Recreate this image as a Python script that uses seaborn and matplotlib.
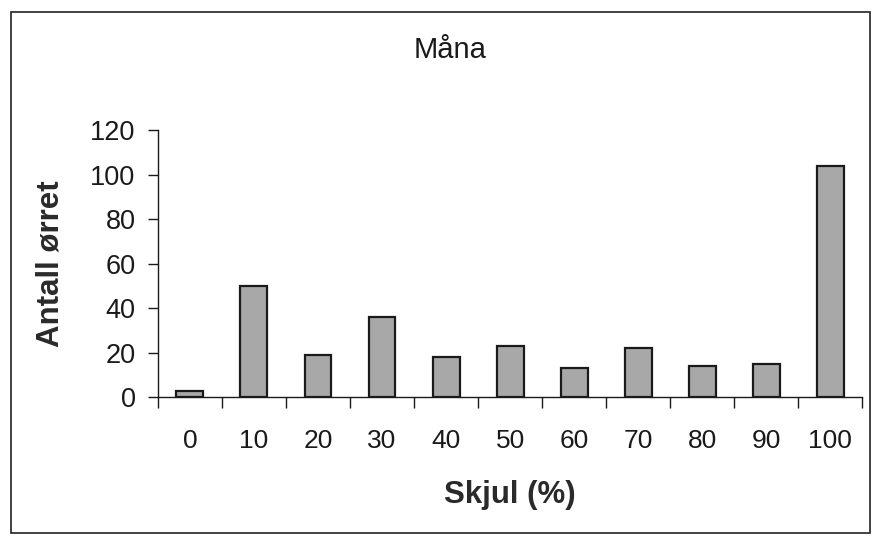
import matplotlib
matplotlib.use("Agg")
import matplotlib.pyplot as plt
import seaborn as sns
import pandas as pd
import numpy as np
from matplotlib.patches import Rectangle

categories = ["0", "10", "20", "30", "40", "50", "60", "70", "80", "90", "100"]
values = [3, 50, 19, 36, 18, 23, 13, 22, 14, 15, 104]
yticks = [0, 20, 40, 60, 80, 100, 120]

sns.set_style("white")
plt.rcParams['font.family'] = ['Liberation Sans', 'DejaVu Sans']

df = pd.DataFrame({"Skjul": categories, "Antall": values})

fig = plt.figure(figsize=(8.72, 5.36), dpi=100)
ax = fig.add_axes([0.181, 0.259, 0.808, 0.498])
sns.barplot(data=df, x="Skjul", y="Antall", order=categories, color="#a8a8a8",
            width=0.42, edgecolor="#1a1a1a", linewidth=1.6, saturation=1, ax=ax)

ax.set_xlim(-0.5, len(categories) - 0.5)
ax.set_ylim(0, 120)
ax.set_yticks(yticks)
ax.set_yticklabels([str(t) for t in yticks], fontsize=19.5)
ax.set_xticks(range(len(categories)))
ax.set_xticklabels(categories, fontsize=19)
ax.set_xticks(np.arange(-0.5, len(categories), 1.0), minor=True)
ax.tick_params(axis="x", which="major", length=0, pad=23, colors="#1a1a1a")
ax.tick_params(axis="x", which="minor", length=8, width=1, direction="out", color="#1a1a1a", bottom=True)
ax.tick_params(axis="y", which="major", length=7, width=1, direction="out", color="#1a1a1a", left=True, labelcolor="#1a1a1a", pad=9)

for s in ["top", "right"]:
    ax.spines[s].set_visible(False)
for s in ["left", "bottom"]:
    ax.spines[s].set_color("#1a1a1a")
    ax.spines[s].set_linewidth(1.0)

ax.set_xlabel("Skjul (%)", fontsize=22.5, fontweight="bold", color="#2a2a2a", labelpad=19)
ax.set_ylabel("Antall ørret", fontsize=22.5, fontweight="bold", color="#2a2a2a", labelpad=18)
fig.text(0.516, 0.907, "Måna", fontsize=21, ha="center", va="center", color="#1a1a1a")

fig.patches.append(Rectangle((0.013, 0.006), 0.985, 0.972, transform=fig.transFigure,
                             fill=False, edgecolor="#222222", linewidth=1.2))

fig.savefig("out.png", dpi=100)
